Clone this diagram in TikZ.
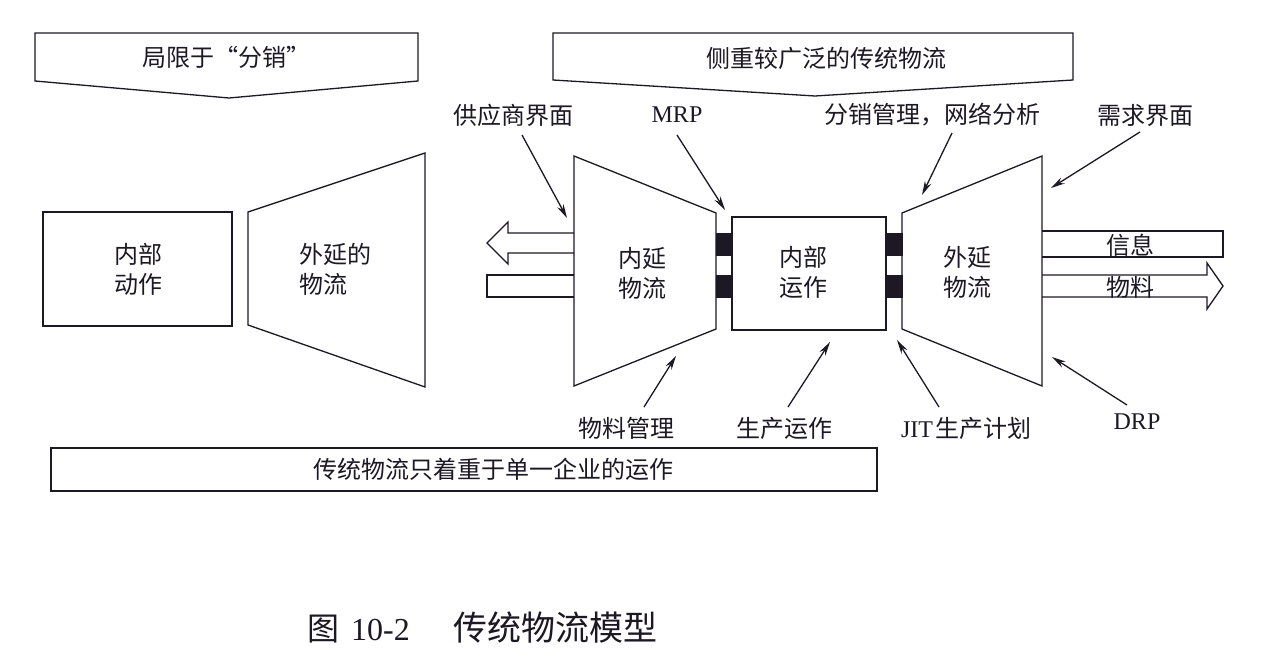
\documentclass[tikz,border=0pt]{standalone}
\usepackage{fontspec}
\setmainfont{Liberation Serif}
\newfontfamily\cjk{Noto Sans CJK SC}
\usetikzlibrary{arrows.meta}
\definecolor{ink}{RGB}{28,24,36}
\begin{document}
\begin{tikzpicture}[x=1pt,y=-1pt,
  shp/.style={draw=ink, line width=1.3pt, line join=miter},
  txt/.style={text=ink, font=\fontsize{24}{30}\selectfont, align=center, inner sep=0pt},
  captxt/.style={text=ink, font=\fontsize{32}{36}\selectfont, inner sep=0pt},
  ptr/.style={draw=ink, line width=1.3pt, -{Stealth[length=14pt,width=7pt]}},
  blk/.style={fill=ink, draw=ink, line width=0.8pt}]
\useasboundingbox[fill=white] (0,0) rectangle (1280,668);

% banners
\draw[shp] (35,33) -- (418,33) -- (418,81) -- (229,98) -- (35,81) -- cycle;
\node[txt] (b1) at (226,57) {\cjk 局限于“分销”};
\draw[shp] (553,33) -- (1073,33) -- (1073,80) -- (815,96) -- (553,80) -- cycle;
\node[txt] (b2) at (826,58) {\cjk 侧重较广泛的传统物流};
\draw[shp] (51,448) rectangle (877,491);
\node[txt] (b3) at (493,469) {\cjk 传统物流只着重于单一企业的运作};

% left group
\draw[shp] (43,212) rectangle (232,326);
\node[txt] (lr) at (138,269) {\cjk 内部\\\cjk 动作};
\draw[shp] (248,212) -- (425,153) -- (425,387) -- (248,325) -- cycle;
\node[txt, align=left] (lt) at (335,269) {\cjk 外延的\\\cjk 物流};

% middle group
\draw[shp] (574,156) -- (716,213) -- (716,329) -- (574,386) -- cycle;
\node[txt] (nt) at (642,273) {\cjk 内延\\\cjk 物流};
\draw[blk] (716,233) rectangle (732,255);
\draw[blk] (716,275) rectangle (732,297);
\draw[shp] (732,217) rectangle (886,330);
\node[txt] (ib) at (803,272) {\cjk 内部\\\cjk 运作};
\draw[blk] (886,233) rectangle (902,255);
\draw[blk] (886,275) rectangle (902,297);
\draw[shp] (902,213) -- (1042,156) -- (1042,386) -- (902,329) -- cycle;
\node[txt] (et) at (967,272) {\cjk 外延\\\cjk 物流};

% block arrows left
\draw[shp] (574,233) -- (508,233) -- (508,222) -- (487,243) -- (508,264) -- (508,253) -- (574,253);
\draw[shp] (574,275) -- (487,275) -- (487,297) -- (574,297);
% block arrows right
\draw[shp] (1042,231) -- (1223,231) -- (1223,257) -- (1042,257);
\draw[shp] (1042,275) -- (1207,275) -- (1207,263) -- (1223,286) -- (1207,309) -- (1207,297) -- (1042,297);
\node[txt] (xi) at (1130,245) {\cjk 信息};
\node[txt] (wl) at (1130,287) {\cjk 物料};

% labels
\node[txt] (l1) at (513,115) {\cjk 供应商界面};
\node[txt] (l2) at (677,115) {MRP};
\node[txt] (l3) at (932,115) {\cjk 分销管理，网络分析};
\node[txt] (l4) at (1145,115) {\cjk 需求界面};
\node[txt] (l5) at (626,428) {\cjk 物料管理};
\node[txt] (l6) at (784,428) {\cjk 生产运作};
\node[txt] (l7) at (966,428) {JIT\hspace{2pt}{\cjk 生产计划}};
\node[txt] (l8) at (1137,422) {DRP};

\coordinate (s1) at (522,135); \coordinate (t1) at (567,218);
\coordinate (s2) at (677,135); \coordinate (t2) at (725,210);
\coordinate (s3) at (952,133); \coordinate (t3) at (922,195);
\coordinate (s4) at (1140,132); \coordinate (t4) at (1051,188);
\coordinate (s5) at (644,407); \coordinate (t5) at (676,356);
\coordinate (s6) at (788,407); \coordinate (t6) at (830,342);
\coordinate (s7) at (939,407); \coordinate (t7) at (897,340);
\coordinate (s8) at (1127,405); \coordinate (t8) at (1052,357);
\foreach \i in {1,...,8} { \draw[ptr] (s\i) -- (t\i); }

% caption
\node[captxt, anchor=west] (cp) at (307,628) {{\cjk 图}\hspace{12pt}10-2\hspace{44pt}{\fontsize{34}{36}\selectfont\cjk 传统物流模型}};
\end{tikzpicture}
\end{document}
